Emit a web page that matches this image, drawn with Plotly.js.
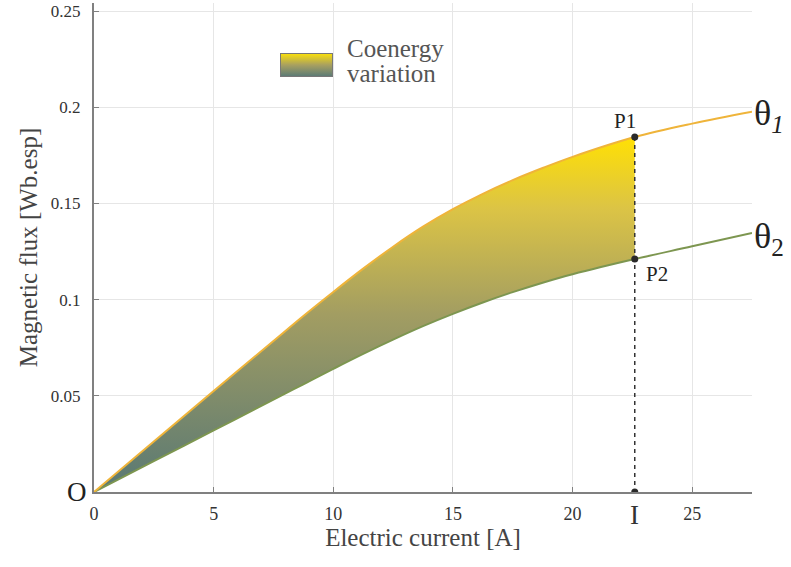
<!DOCTYPE html>
<html>
<head>
<meta charset="utf-8">
<script src="https://cdn.plot.ly/plotly-3.0.1.min.js"></script>
<style>html,body{margin:0;padding:0;background:#fff;}#chart{width:791px;height:567px;}</style>
</head>
<body>
<div id="chart"></div>
<script>
// ---- data ----
var current = [0, 2.5, 5, 7.5, 8.75, 10, 11.25, 12.5, 13.75, 15, 16.25, 17.5, 18.75, 20, 22.6, 25, 27.5];
var flux1 = [0, 0.0262, 0.0525, 0.0785, 0.0915, 0.104, 0.1161, 0.1275, 0.1379, 0.147, 0.155, 0.1621, 0.1684, 0.1742, 0.1845, 0.1915, 0.1977]; // theta 1
var flux2 = [0, 0.016, 0.032, 0.048, 0.056, 0.064, 0.0718, 0.0792, 0.0862, 0.0926, 0.0985, 0.1039, 0.1088, 0.1132, 0.1211, 0.1277, 0.1347]; // theta 2
var currentI = 22.6;
var xTicks = [0, 5, 10, 15, 20, 25];
var yTicks = [0.05, 0.1, 0.15, 0.2, 0.25];
var yTickText = ['0.05', '0.1', '0.15', '0.2', '0.25'];

var iIdx = current.indexOf(currentI);
var xFill = current.slice(0, iIdx + 1);
var y1Fill = flux1.slice(0, iIdx + 1);
var y2Fill = flux2.slice(0, iIdx + 1);
var p1 = flux1[iIdx], p2 = flux2[iIdx];
var last = current.length - 1;

var serif = '"Liberation Serif", "Times New Roman", serif';

var traces = [
  {x: xFill, y: y2Fill, mode: 'lines', line: {width: 0, shape: 'spline'}, showlegend: false, hoverinfo: 'skip'},
  {x: xFill, y: y1Fill, mode: 'lines', line: {width: 0, shape: 'spline'}, fill: 'tonexty',
   fillgradient: {type: 'vertical', start: 0, stop: p1,
     colorscale: [[0, '#587874'], [0.5, '#a29d62'], [0.8, '#dcc445'], [1, '#ffe004']]},
   showlegend: false, hoverinfo: 'skip'},
  {x: current, y: flux2, mode: 'lines', line: {color: '#7d9650', width: 2, shape: 'spline'}, showlegend: false},
  {x: current, y: flux1, mode: 'lines', line: {color: '#efb43a', width: 2, shape: 'spline'}, showlegend: false},
  {x: [currentI, currentI], y: [p1, 0], mode: 'lines', line: {color: '#333', width: 1.5, dash: '4px,4px'}, showlegend: false},
  {x: [currentI, currentI, currentI], y: [p1, p2, 0], mode: 'markers',
   marker: {color: '#2a2a2a', size: 7}, showlegend: false}
];

var legendSvg = '<svg xmlns="http://www.w3.org/2000/svg" width="54" height="24" viewBox="0 0 54 24">' +
  '<defs><linearGradient id="g" x1="0" y1="0" x2="0" y2="1">' +
  '<stop offset="0" stop-color="#fbe00a"/><stop offset="0.5" stop-color="#a8a060"/><stop offset="1" stop-color="#5a7a76"/>' +
  '</linearGradient></defs><rect x="0.5" y="0.5" width="53" height="23" fill="url(#g)" stroke="#777" stroke-width="1"/></svg>';

var plotTop = 3, plotBottom = 75;
var yMax = 0.2542;
// paper fraction of a pixel row / column of the page
function py(pixelY) { return (567 - plotBottom - pixelY) / (567 - plotBottom - plotTop); }
function px(pixelX) { return (pixelX - 94) / (791 - 94 - 39); }

var layout = {
  width: 791, height: 567,
  margin: {l: 94, r: 39, t: plotTop, b: plotBottom},
  paper_bgcolor: '#fff', plot_bgcolor: '#fff',
  font: {family: serif, color: '#333', size: 18},
  xaxis: {
    range: [0, 27.5], tickvals: xTicks, ticktext: xTicks.map(String),
    showgrid: true, gridcolor: '#e6e6e6', gridwidth: 1, zeroline: false,
    showline: true, linecolor: '#808080', linewidth: 2,
    ticks: 'inside', ticklen: 5, tickcolor: '#808080', ticklabelstandoff: 4,
    tickfont: {family: serif, size: 18, color: '#333'},
    title: {text: 'Electric current [A]', font: {family: serif, size: 25, color: '#444'}, standoff: 6}
  },
  yaxis: {
    range: [0, yMax], tickvals: yTicks, ticktext: yTickText,
    showgrid: true, gridcolor: '#e6e6e6', gridwidth: 1, zeroline: false,
    showline: true, linecolor: '#808080', linewidth: 2,
    ticks: 'inside', ticklen: 5, tickcolor: '#808080', ticklabelstandoff: 8, ticklabeloverflow: 'allow',
    tickfont: {family: serif, size: 17, color: '#333'},
    title: {text: 'Magnetic flux [Wb.esp]', font: {family: serif, size: 25, color: '#444'}, standoff: 6}
  },
  images: [{
    source: 'data:image/svg+xml;charset=utf-8,' + encodeURIComponent(legendSvg),
    xref: 'paper', yref: 'paper', x: px(280), y: py(53), sizex: px(333) - px(280), sizey: py(53) - py(77),
    xanchor: 'left', yanchor: 'top', sizing: 'stretch', layer: 'above'
  }],
  annotations: [
    {xref: 'paper', yref: 'paper', x: px(345), y: py(48), xanchor: 'left', yanchor: 'middle', align: 'left',
     text: 'Coenergy', showarrow: false, font: {family: serif, size: 25, color: '#555'}},
    {xref: 'paper', yref: 'paper', x: px(345), y: py(74), xanchor: 'left', yanchor: 'middle', align: 'left',
     text: 'variation', showarrow: false, font: {family: serif, size: 25, color: '#555'}},
    {x: currentI, y: p1, text: 'P1', showarrow: false, xanchor: 'center', yanchor: 'middle', xshift: -10, yshift: 16,
     font: {family: serif, size: 21, color: '#222'}},
    {x: currentI, y: p2, text: 'P2', showarrow: false, xanchor: 'center', yanchor: 'middle', xshift: 22, yshift: -15,
     font: {family: serif, size: 21, color: '#222'}},
    {x: current[last], y: flux1[last], text: '\u03b8<sub><i>1</i></sub>', showarrow: false, xanchor: 'left', yanchor: 'middle',
     xshift: 0, yshift: -4, font: {family: serif, size: 36, color: '#222'}},
    {x: current[last], y: flux2[last], text: '\u03b8<sub>2</sub>', showarrow: false, xanchor: 'left', yanchor: 'middle',
     xshift: 0, yshift: -6, font: {family: serif, size: 36, color: '#222'}},
    {x: 0, y: 0, text: 'O', showarrow: false, xanchor: 'right', yanchor: 'middle', xshift: -5, yshift: 0,
     font: {family: serif, size: 27, color: '#222'}},
    {x: currentI, y: 0, text: 'I', showarrow: false, xanchor: 'center', yanchor: 'top', yshift: -6,
     font: {family: serif, size: 27, color: '#333'}}
  ]
};

Plotly.newPlot('chart', traces, layout, {displayModeBar: false, staticPlot: true});
</script>
</body>
</html>
